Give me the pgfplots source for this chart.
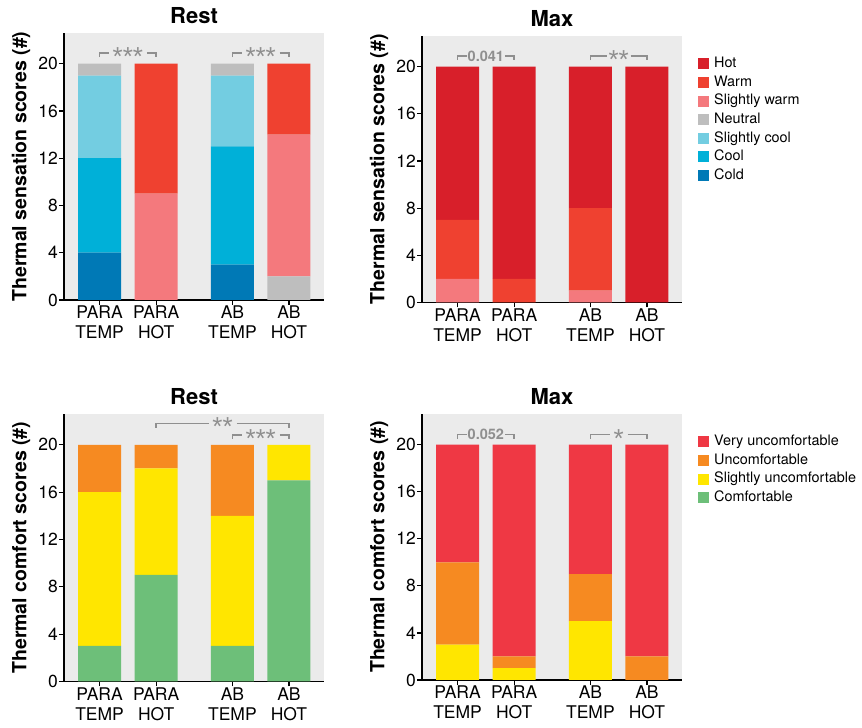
\documentclass[border=0pt]{standalone}
\usepackage{pgfplots}
\pgfplotsset{compat=1.18}
\usepackage{fontspec}
\setmainfont{TeX Gyre Heros}
\newfontfamily\starfont{Liberation Sans}

\definecolor{bggray}{HTML}{EBEBEB}
\definecolor{sigcol}{HTML}{8F8F8F}
\definecolor{cHot}{HTML}{D81F2A}
\definecolor{cWarm}{HTML}{EF4130}
\definecolor{cSWarm}{HTML}{F4797D}
\definecolor{cNeutral}{HTML}{BEBEBE}
\definecolor{cSCool}{HTML}{73CDE1}
\definecolor{cCool}{HTML}{00B0D8}
\definecolor{cCold}{HTML}{0079B6}
\definecolor{cVUnc}{HTML}{EF3844}
\definecolor{cUnc}{HTML}{F68A21}
\definecolor{cSUnc}{HTML}{FFE600}
\definecolor{cComf}{HTML}{6DBF79}

\tikzset{
  sigline/.style={draw=sigcol, line width=1.6pt},
  starnode/.style={text=sigcol, font=\starfont\fontsize{26}{26}\selectfont, anchor=base, yshift=-12.5pt, inner sep=0pt},
  pnode/.style={text=sigcol, font=\bfseries\fontsize{14.5}{16}\selectfont, anchor=center, inner sep=0pt},
}

\pgfplotsset{
  sqlegend/.style={legend image code/.code={\fill[##1] (0pt,-5.5pt) rectangle (11pt,5.5pt);}},
  panel/.style={
    scale only axis, width=260pt, height=267pt,
    xmin=-0.63, xmax=3.97, ymin=0, ymax=22.6,
    axis x line*=bottom, axis y line*=left,
    axis line style={black, line width=1.6pt},
    axis background/.style={fill=bggray},
    ybar stacked, bar width=43pt,
    xtick={0,1,2.35,3.35},
    xticklabels={{PARA\\TEMP},{PARA\\HOT},{AB\\TEMP},{AB\\HOT}},
    ytick={0,4,8,12,16,20},
    tick align=outside, major tick length=5pt,
    tick style={black, line width=1.2pt},
    x tick label style={align=center, font=\fontsize{17.5}{20}\selectfont, inner sep=1pt},
    y tick label style={font=\fontsize{17.5}{20}\selectfont, inner sep=1pt},
    /pgf/number format/assume math mode=true,
    title style={font=\bfseries\fontsize{22}{25}\selectfont},
    ylabel style={font=\bfseries\fontsize{19.5}{23}\selectfont, at={(axis description cs:-0.165,0.5)}, anchor=center},
    every axis plot post/.append style={sqlegend, draw=none},
    clip=false,
    legend cell align=left,
    legend style={at={(1,1)}, anchor=north west, xshift=16pt, yshift=-20.5pt,
      draw=none, fill=none, inner sep=0pt, row sep=4.1pt,
      font=\fontsize{14.4}{17}\selectfont,
      nodes={inner sep=0pt, text height=11pt, text depth=3.5pt},
      /tikz/every even column/.append style={column sep=0pt},
      /tikz/every odd column/.append style={column sep=5pt}},
  },
}

% #1 x0, #2 x1, #3 xmid, #4 y, #5 ylow, #6 half gap, #7 node style, #8 text
\newcommand{\sigbr}[8]{%
  \draw[sigline] (axis cs:#1,#5) -- (axis cs:#1,#4) -- ([xshift=-#6pt]axis cs:#3,#4);
  \draw[sigline] ([xshift=#6pt]axis cs:#3,#4) -- (axis cs:#2,#4) -- (axis cs:#2,#5);
  \node[#7] at (axis cs:#3,#4) {#8};
}

\begin{document}
\begin{tikzpicture}[x=1pt,y=1pt]
\useasboundingbox (0,0) rectangle (862,728);

% ---------- Top left: sensation, Rest
\begin{axis}[panel, at={(64pt,428pt)}, anchor=south west, height=267pt,
  title={Rest}, ylabel={Thermal sensation scores (\#)}]
\addplot[fill=cCold]    coordinates {(0,4) (1,0) (2.35,3) (3.35,0)};
\addplot[fill=cCool]    coordinates {(0,8) (1,0) (2.35,10) (3.35,0)};
\addplot[fill=cSCool]   coordinates {(0,7) (1,0) (2.35,6) (3.35,0)};
\addplot[fill=cNeutral] coordinates {(0,1) (1,0) (2.35,1) (3.35,2)};
\addplot[fill=cSWarm]   coordinates {(0,0) (1,9) (2.35,0) (3.35,12)};
\addplot[fill=cWarm]    coordinates {(0,0) (1,11) (2.35,0) (3.35,6)};
\addplot[fill=cHot]     coordinates {(0,0) (1,0) (2.35,0) (3.35,0)};
\sigbr{0}{1}{0.5}{20.9}{20.55}{19}{starnode}{***}
\sigbr{2.35}{3.35}{2.85}{20.9}{20.55}{19}{starnode}{***}
\end{axis}

% ---------- Top right: sensation, Max
\begin{axis}[panel, at={(422pt,425.5pt)}, anchor=south west, height=266.5pt,
  title={Max}, ylabel={Thermal sensation scores (\#)}, reverse legend]
\addplot[fill=cCold]    coordinates {(0,0) (1,0) (2.35,0) (3.35,0)};
\addplot[fill=cCool]    coordinates {(0,0) (1,0) (2.35,0) (3.35,0)};
\addplot[fill=cSCool]   coordinates {(0,0) (1,0) (2.35,0) (3.35,0)};
\addplot[fill=cNeutral] coordinates {(0,0) (1,0) (2.35,0) (3.35,0)};
\addplot[fill=cSWarm]   coordinates {(0,2) (1,0) (2.35,1) (3.35,0)};
\addplot[fill=cWarm]    coordinates {(0,5) (1,2) (2.35,7) (3.35,0)};
\addplot[fill=cHot]     coordinates {(0,13) (1,18) (2.35,12) (3.35,20)};
\legend{Cold, Cool, Slightly cool, Neutral, Slightly warm, Warm, Hot}
\sigbr{0}{1}{0.5}{20.9}{20.55}{19}{pnode}{0.041}
\sigbr{2.35}{3.35}{2.85}{20.9}{20.55}{12}{starnode}{**}
\end{axis}

% ---------- Bottom left: comfort, Rest
\begin{axis}[panel, at={(64pt,46.5pt)}, anchor=south west, height=267.5pt,
  title={Rest}, ylabel={Thermal comfort scores (\#)}]
\addplot[fill=cComf] coordinates {(0,3) (1,9) (2.35,3) (3.35,17)};
\addplot[fill=cSUnc] coordinates {(0,13) (1,9) (2.35,11) (3.35,3)};
\addplot[fill=cUnc]  coordinates {(0,4) (1,2) (2.35,6) (3.35,0)};
\addplot[fill=cVUnc] coordinates {(0,0) (1,0) (2.35,0) (3.35,0)};
\sigbr{1}{3.35}{2.175}{21.8}{21.45}{14}{starnode}{**}
\sigbr{2.35}{3.35}{2.85}{20.85}{20.5}{19}{starnode}{***}
\end{axis}

% ---------- Bottom right: comfort, Max
\begin{axis}[panel, at={(422pt,48pt)}, anchor=south west, height=266pt,
  title={Max}, ylabel={Thermal comfort scores (\#)}, reverse legend]
\addplot[fill=cComf] coordinates {(0,0) (1,0) (2.35,0) (3.35,0)};
\addplot[fill=cSUnc] coordinates {(0,3) (1,1) (2.35,5) (3.35,0)};
\addplot[fill=cUnc]  coordinates {(0,7) (1,1) (2.35,4) (3.35,2)};
\addplot[fill=cVUnc] coordinates {(0,10) (1,18) (2.35,11) (3.35,18)};
\legend{Comfortable, Slightly uncomfortable, Uncomfortable, Very uncomfortable}
\sigbr{0}{1}{0.5}{20.85}{20.5}{19}{pnode}{0.052}
\sigbr{2.35}{3.35}{2.85}{20.85}{20.5}{9}{starnode}{*}
\end{axis}
\end{tikzpicture}
\end{document}
